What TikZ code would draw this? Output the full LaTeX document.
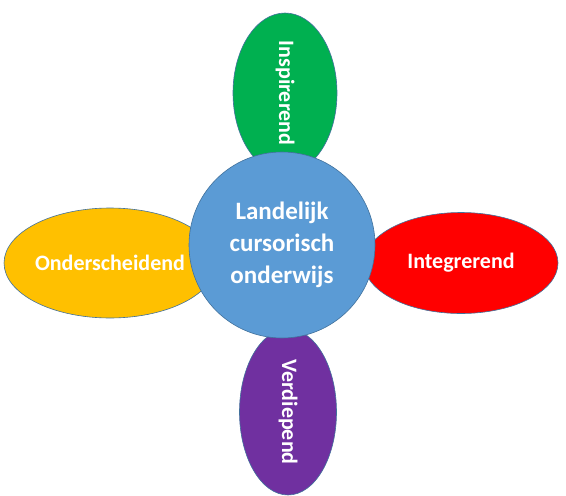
\documentclass[tikz,border=0pt]{standalone}
\usepackage{fontspec}
\setsansfont{Carlito}
\usetikzlibrary{shapes.geometric}
\definecolor{petalgreen}{RGB}{0,176,80}
\definecolor{petalyellow}{RGB}{255,192,0}
\definecolor{petalred}{RGB}{255,0,0}
\definecolor{petalpurple}{RGB}{112,48,160}
\definecolor{hubblue}{RGB}{91,155,213}
\definecolor{hubedge}{RGB}{65,113,156}
\tikzset{
  petal/.style={
    ellipse,
    draw=hubedge,
    line width=0.6pt,
    inner sep=0pt,
    text=white,
    font=\sffamily\bfseries\fontsize{22}{26}\selectfont
  },
  petal-up/.style={petal, fill=petalgreen, minimum width=160pt, minimum height=104pt, rotate=-90},
  petal-down/.style={petal, fill=petalpurple, minimum width=166pt, minimum height=97pt, rotate=-90},
  petal-left/.style={petal, fill=petalyellow, minimum width=190pt, minimum height=110pt},
  petal-right/.style={petal, fill=petalred, minimum width=194pt, minimum height=101pt},
  hub/.style={
    circle,
    draw=hubedge,
    line width=0.6pt,
    fill=hubblue,
    minimum size=186pt,
    inner sep=0pt,
    align=center,
    text=white,
    font=\sffamily\bfseries\fontsize{25}{32}\selectfont
  }
}

\begin{document}
\begin{tikzpicture}[x=1pt, y=-1pt]
  \useasboundingbox (0,0) rectangle (566,496);
  % The four petals
  \node[petal-up] (insp) at (285,93) {Inspirerend};
  \node[petal-down] (verd) at (288,412) {Verdiepend};
  \node[petal-left] (onder) at (110,263) {Onderscheidend};
  \node[petal-right] (integ) at (461,263) {Integrerend};
  % Centre circle on top
  \node[hub] (lco) at (282,245) {Landelijk\\cursorisch\\onderwijs};
\end{tikzpicture}
\end{document}
